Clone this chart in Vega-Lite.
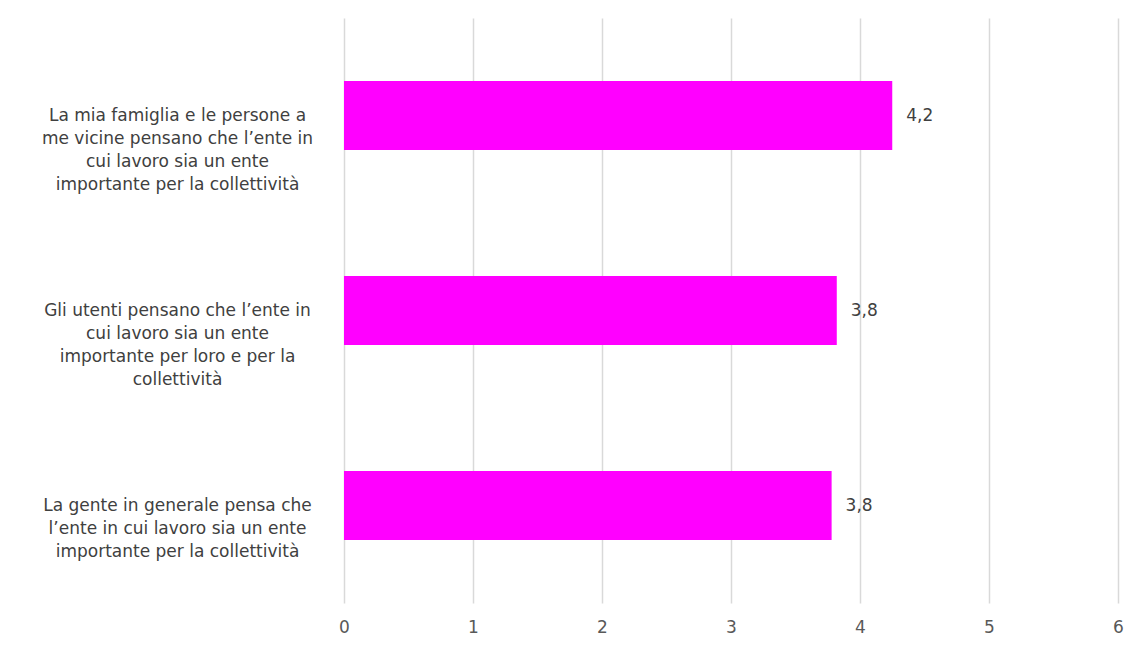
{
  "$schema": "https://vega.github.io/schema/vega-lite/v6.json",
  "width": 774,
  "height": 585,
  "autosize": {"type": "none"},
  "padding": {"left": 344, "top": 18, "right": 19, "bottom": 43},
  "background": "white",
  "config": {"view": {"stroke": null}, "font": "DejaVu Sans"},
  "data": {"values": [
    {"item": "La mia famiglia e le persone a|me vicine pensano che l’ente in|cui lavoro sia un ente|importante per la collettività", "value": 4.25, "label": "4,2"},
    {"item": "Gli utenti pensano che l’ente in|cui lavoro sia un ente|importante per loro e per la|collettività", "value": 3.82, "label": "3,8"},
    {"item": "La gente in generale pensa che|l’ente in cui lavoro sia un ente|importante per la collettività", "value": 3.78, "label": "3,8"}
  ]},
  "encoding": {
    "y": {"field": "item", "type": "nominal", "sort": null,
      "scale": {"paddingInner": 0.646, "paddingOuter": 0.323},
      "axis": {"title": null, "domain": false, "ticks": false, "labelPadding": 167,
        "labelExpr": "split(datum.label, '|')", "labelFontSize": 17, "labelColor": "#404040",
        "labelLineHeight": 23, "labelAlign": "center", "labelLimit": 400, "labelFont": "DejaVu Sans"}}
  },
  "layer": [
    {"mark": {"type": "bar", "color": "#ff00ff"},
     "encoding": {"x": {"field": "value", "type": "quantitative",
       "scale": {"domain": [0, 6], "nice": false},
       "axis": {"title": null, "values": [0,1,2,3,4,5,6], "format": "d", "domain": false, "ticks": false,
         "grid": true, "gridColor": "#d9d9d9", "gridWidth": 1.5, "labelFontSize": 17, "labelFlush": false,
         "labelColor": "#595959", "labelPadding": 16, "labelFont": "DejaVu Sans"}}}},
    {"mark": {"type": "text", "align": "left", "dx": 14, "fontSize": 17, "color": "#404040", "font": "DejaVu Sans"},
     "encoding": {"x": {"field": "value", "type": "quantitative"}, "text": {"field": "label"}}}
  ]
}
